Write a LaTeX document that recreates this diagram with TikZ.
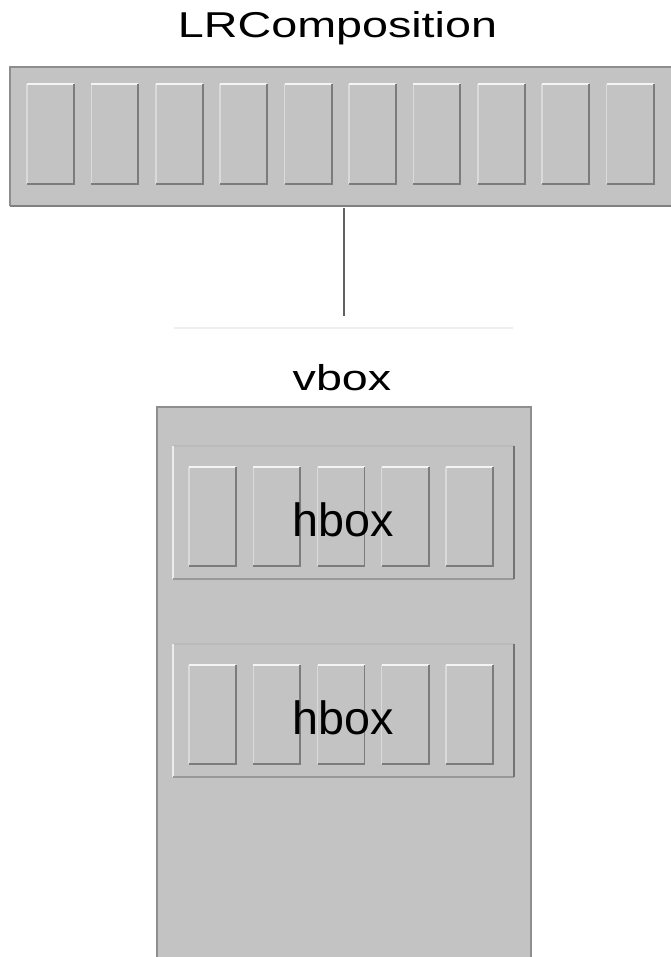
\documentclass[tikz,border=0pt]{standalone}
\usepackage{fontspec}
\setmainfont{Liberation Sans}
\definecolor{boxfill}{HTML}{C3C3C3}
\definecolor{hilite}{HTML}{F4F4F4}
\definecolor{hiliteside}{HTML}{DADADA}
\definecolor{shade}{HTML}{7C7C7C}
\definecolor{outerrim}{HTML}{8E8E8E}
\definecolor{faint}{HTML}{EEEEEE}
\newcommand{\mkbox}[6]{% style, name, x1, y1, x2, y2
  \node[#1, minimum width={(#5-#3)*0.75pt}, minimum height={(#6-#4)*0.75pt}]
    (#2) at ({(#3+#5)/2},{(#4+#6)/2}) {};}
\begin{document}
\begin{tikzpicture}[x=0.75pt,y=-0.75pt,
  plainbox/.style={fill=boxfill, draw=none, inner sep=0pt, outer sep=0pt, rectangle},
  lbl/.style={font=\fontsize{35}{42}\selectfont, inner sep=0pt, anchor=base},
  rimtop/.style={draw=hilite, line width=1.2pt},
  rimleft/.style={draw=hiliteside, line width=1.1pt},
  rimdark/.style={draw=shade, line width=1.4pt},
  connector/.style={draw=black!62, line width=1.5pt}]
\useasboundingbox (0,0) rectangle (671,957);
\fill[white] (0,0) rectangle (671,957);

% ---------- LRComposition ----------
\node[lbl] (lrtitle) at (337.5,37) {\scalebox{1}[0.77]{LRComposition}};
\mkbox{plainbox}{lr}{10}{67}{674}{206}
\draw[outerrim, line width=1.1pt] (lr.south west) -- (lr.north west) -- (lr.north east);
\draw[black!50, line width=1.6pt] (lr.south west) -- (lr.south east);
\foreach \i in {0,...,9}{
  \pgfmathsetmacro{\xa}{27+64.4*\i}
  \pgfmathsetmacro{\xb}{\xa+47}
  \mkbox{plainbox}{lr\i}{\xa}{84}{\xb}{184}
  \draw[rimleft] (lr\i.south west) -- (lr\i.north west);
  \draw[rimtop] (lr\i.north west) -- (lr\i.north east);
  \draw[rimdark] (lr\i.north east) -- (lr\i.south east) -- (lr\i.south west);
}

% ---------- connector ----------
\coordinate (cend) at (344,316);
\draw[connector] (lr.south -| cend) ++(0,2) -- (cend);
\coordinate (fl) at (174,328);
\coordinate (fr) at (513,328);
\draw[faint, line width=1pt] (fl) -- (fr);

% ---------- vbox ----------
\node[lbl] (vtitle) at (342,390) {\scalebox{1}[0.77]{vbox}};
\mkbox{plainbox}{vb}{157}{407}{531}{962}
\draw[outerrim, line width=1.5pt] (vb.south west) -- (vb.north west) -- (vb.north east) -- (vb.south east);

% ---------- hboxes ----------
\foreach \k/\ya in {1/446,2/644}{
  \pgfmathsetmacro{\yb}{\ya+133}
  \mkbox{plainbox}{hb\k}{173}{\ya}{514}{\yb}
  \draw[draw=black!27, line width=0.8pt] (hb\k.north west) -- (hb\k.north east);
  \draw[draw=hilite!70!hiliteside, line width=1.5pt] (hb\k.south west) -- (hb\k.north west);
  \draw[draw=black!40, line width=1.1pt] (hb\k.south west) -- (hb\k.south east);
  \draw[draw=black!55, line width=1.5pt] (hb\k.south east) -- (hb\k.north east);
  \pgfmathsetmacro{\ia}{\ya+21}
  \pgfmathsetmacro{\ib}{\ya+120}
  \foreach \j in {0,...,4}{
    \pgfmathsetmacro{\xa}{189+64.25*\j}
    \pgfmathsetmacro{\xb}{\xa+47}
    \mkbox{plainbox}{hb\k b\j}{\xa}{\ia}{\xb}{\ib}
    \draw[rimleft] (hb\k b\j.south west) -- (hb\k b\j.north west);
    \draw[rimtop] (hb\k b\j.north west) -- (hb\k b\j.north east);
    \draw[rimdark] (hb\k b\j.north east) -- (hb\k b\j.south east) -- (hb\k b\j.south west);
  }
  \pgfmathsetmacro{\yt}{\ya+90}
  \node[lbl] (htitle\k) at (343.5,\yt) {hbox};
}
\end{tikzpicture}
\end{document}
